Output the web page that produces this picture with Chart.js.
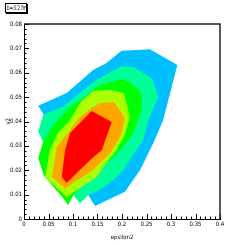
<!DOCTYPE html>
<html>
<head>
<meta charset="utf-8">
<script src="https://cdn.jsdelivr.net/npm/chart.js@4/dist/chart.umd.min.js"></script>
<style>
  html, body { margin: 0; padding: 0; background: #fff; }
  #wrap { position: relative; width: 245px; height: 245px; }
  #tag {
    position: absolute; left: 5px; top: 3px; width: 20px; height: 8px;
    border: 1px solid #000; box-shadow: 1px 1px 0 #000; background: #fff;
    overflow: hidden;
  }
  #tag span {
    position: absolute; left: 1px; top: 0; white-space: nowrap;
    font: 6.5px "Liberation Sans Narrow", "DejaVu Sans Condensed", sans-serif;
    line-height: 8px; transform: scaleX(0.72); transform-origin: left center;
  }
</style>
</head>
<body>
<div id="wrap">
  <canvas id="myChart" width="245" height="245"></canvas>
  <div id="tag"><span>b=3.2 fm</span></div>
</div>
<script>
// contour levels, innermost first: [epsilon2, v2] corners of each filled band
var red = [[0.138,0.0443],[0.179,0.0398],[0.159,0.0283],[0.135,0.0242],[0.087,0.0148],
           [0.077,0.0172],[0.084,0.0283],[0.094,0.0353]];
var orange = [[0.135,0.0451],[0.155,0.0476],[0.184,0.048],[0.206,0.0414],[0.198,0.0345],
              [0.176,0.0271],[0.141,0.0201],[0.110,0.016],[0.084,0.0125],[0.057,0.0172],
              [0.067,0.0295],[0.094,0.0365],[0.114,0.0418]];
var yellowGreen = [[0.141,0.0525],[0.176,0.0529],[0.204,0.0517],[0.216,0.0418],[0.206,0.0345],
                   [0.189,0.0283],[0.165,0.0222],[0.148,0.0172],[0.114,0.0127],[0.087,0.009],
                   [0.043,0.0172],[0.053,0.0283],[0.069,0.0353],[0.094,0.0406],[0.114,0.0476]];
var green = [[0.039,0.0317],[0.053,0.0365],[0.067,0.0402],[0.094,0.046],[0.121,0.0495],
             [0.155,0.055],[0.199,0.0573],[0.216,0.0563],[0.240,0.0516],[0.241,0.0455],
             [0.223,0.0352],[0.203,0.0297],[0.176,0.0242],[0.155,0.0213],[0.124,0.0152],
             [0.101,0.0098],[0.090,0.0057],[0.078,0.009],[0.041,0.0176],[0.029,0.0249]];
var cyan = [[0.039,0.0427],[0.080,0.0463],[0.114,0.0517],[0.145,0.0566],[0.176,0.0603],
            [0.199,0.0627],[0.222,0.0625],[0.261,0.0577],[0.274,0.0502],[0.254,0.0406],
            [0.243,0.0324],[0.220,0.0256],[0.203,0.0201],[0.182,0.016],[0.155,0.0119],
            [0.131,0.0098],[0.114,0.0064],[0.101,0.0098],[0.073,0.024],[0.039,0.0317],
            [0.029,0.0358]];
var blue = [[0.029,0.0465],[0.087,0.0517],[0.141,0.0611],[0.167,0.0638],[0.199,0.069],
            [0.257,0.0696],[0.313,0.0632],[0.284,0.0406],[0.267,0.0324],[0.237,0.0201],
            [0.206,0.0112],[0.145,0.0053],[0.131,0.0098],[0.073,0.028],[0.043,0.0418]];

var xTickLabels = ['0','0.05','0.1','0.15','0.2','0.25','0.3','0.35','0.4'];
var yTickLabels = ['0','0.01','0.02','0.03','0.04','0.05','0.06','0.07','0.08'];

var levels = [red, orange, yellowGreen, green, cyan, blue];
var colors = ['#ff0000','#ffa500','#aaff00','#00ff00','#00ff99','#00bfff'];

function band(pts, color) {
  var d = pts.map(function (p) { return {x: p[0], y: p[1]}; });
  d.push({x: pts[0][0], y: pts[0][1]});
  return { data: d, showLine: true, fill: 'shape', backgroundColor: color,
           borderWidth: 0, pointRadius: 0, tension: 0 };
}

var font = { family: '"Liberation Sans Narrow", "DejaVu Sans Condensed", sans-serif', size: 6 };

// ROOT style ticks pointing into the frame, plus the top/right frame lines
var rootFrame = {
  id: 'rootFrame',
  afterDraw: function (chart) {
    var ctx = chart.ctx, a = chart.chartArea, x = chart.scales.x, y = chart.scales.y;
    ctx.save();
    ctx.strokeStyle = '#000';
    ctx.lineWidth = 1;
    ctx.beginPath();
    for (var i = 0; i <= 40; i++) {
      var px = Math.round(x.getPixelForValue(i * 0.01)) + 0.5;
      var len = i % 5 === 0 ? 5 : 2.5;
      ctx.moveTo(px, a.bottom); ctx.lineTo(px, a.bottom - len);
    }
    for (var j = 0; j <= 40; j++) {
      var py = Math.round(y.getPixelForValue(j * 0.002)) + 0.5;
      var l2 = j % 5 === 0 ? 5 : 2.5;
      ctx.moveTo(a.left, py); ctx.lineTo(a.left + l2, py);
    }
    ctx.stroke();
    ctx.strokeStyle = '#222';
    ctx.lineWidth = 1.5;
    ctx.beginPath();
    ctx.moveTo(a.left, a.top); ctx.lineTo(a.right, a.top); ctx.lineTo(a.right, a.bottom);
    ctx.stroke();
    ctx.restore();
  }
};

var ctx = document.getElementById('myChart');
var myChart = new Chart(ctx, {
  type: 'scatter',
  data: { datasets: levels.map(function (l, i) { return band(l, colors[i]); }) },
  options: {
    responsive: false,
    animation: false,
    layout: { padding: { top: 24, right: 25, left: 0, bottom: 0 } },
    plugins: { legend: { display: false }, tooltip: { enabled: false } },
    scales: {
      x: {
        type: 'linear', min: 0, max: 0.4,
        afterFit: function (s) { s.height = 26; },
        ticks: { stepSize: 0.05, font: font, color: '#000', padding: 2, maxRotation: 0,
                 callback: function (v, i) { return xTickLabels[i]; } },
        grid: { display: false, drawTicks: false },
        border: { display: true, color: '#000', width: 1 },
        title: { display: true, text: 'epsilon2', font: font, color: '#000',
                 padding: { top: 0, bottom: 4 } }
      },
      y: {
        type: 'linear', min: 0, max: 0.08,
        afterFit: function (s) { s.width = 24; },
        ticks: { stepSize: 0.01, font: font, color: '#000', padding: 2,
                 callback: function (v, i) { return yTickLabels[i]; } },
        grid: { display: false, drawTicks: false },
        border: { display: true, color: '#000', width: 1 },
        title: { display: true, text: 'v2', font: font, color: '#000',
                 padding: { top: 5, bottom: 0 } }
      }
    }
  },
  plugins: [rootFrame]
});
</script>
</body>
</html>
